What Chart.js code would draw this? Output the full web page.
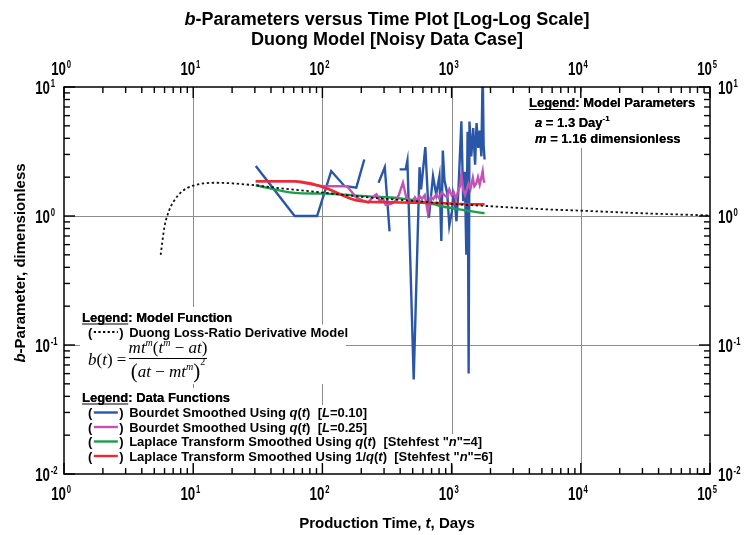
<!DOCTYPE html>
<html>
<head>
<meta charset="utf-8">
<script src="https://cdn.jsdelivr.net/npm/chart.js@4.4.1/dist/chart.umd.min.js"></script>
<style>
  html, body { margin: 0; padding: 0; background: #fff; }
  #wrap { width: 745px; height: 535px; }
</style>
</head>
<body>
<div id="wrap"><canvas id="bchart" width="745" height="535"></canvas></div>
<script>
// axis decades (exponents of 10)
const xExps = [0, 1, 2, 3, 4, 5];
const yExps = [-2, -1, 0, 1];

// Duong loss-ratio derivative model (dotted)
const modelT = [5.6, 6, 6.5, 7, 8, 9, 10, 12, 15, 20, 30, 50, 100, 200, 500, 1000, 2000, 5000, 10000, 30000, 100000];
const modelB = [0.50, 0.83, 1.10, 1.28, 1.52, 1.65, 1.72, 1.79, 1.81, 1.79, 1.73, 1.63, 1.52, 1.41, 1.31, 1.24, 1.19, 1.13, 1.10, 1.05, 1.01];

// Bourdet smoothed, L=0.10 (blue) - null = break in the line
const blueT = [30.5, 61, 91, 117, 148, 183, 211, 240, 272, 304, 331, 360, 396, 441, 455, 509, 565, 580, 626, 667,
  718, 760, 805, 833, 855, 880, 925, 960, 1007, 1030, 1060, 1090, 1130, 1190, 1230, 1265, 1300, 1330, 1355, 1375,
  1420, 1470, 1520, 1560, 1610, 1650, 1700, 1740, 1770, 1800];
const blueB = [2.44, 1.0, 1.0, 2.23, 1.71, 1.66, 2.74, null, 1.81, 2.39, 0.76, null, 2.30, 2.30, 2.69, 0.054, 2.39, 1.61, 3.42, 0.97,
  2.04, 1.47, 2.04, 0.64, 3.22, 1.9, 1.5, 0.84, 1.09, 1.47, 1.27, 0.91, 1.6, 5.43, 1.3, 2.2, 0.5, 4.5, 0.06, 5.4,
  2.9, 4.8, 2.5, 5.25, 3.37, 4.6, 2.9, 14, 3.5, 2.74];

// Bourdet smoothed, L=0.25 (magenta)
const magT = [30.5, 61, 100, 155, 183, 205, 226, 245, 262, 278, 295, 309, 340, 365, 390, 420, 446, 470, 490, 520,
  545, 565, 590, 620, 655, 690, 720, 760, 800, 840, 880, 920, 960, 1000, 1040, 1080, 1120, 1160, 1190, 1230,
  1270, 1310, 1350, 1400, 1460, 1500, 1550, 1600, 1650, 1700, 1740, 1770, 1800];
const magB = [1.86, 1.86, 1.70, 1.70, 1.39, 1.32, 1.27, 1.40, 1.47, 1.31, 1.36, 1.22, 1.24, 1.30, 1.45, 1.81, 1.39, 1.30, 1.27, 1.40,
  1.30, 1.43, 1.36, 1.45, 1.06, 1.40, 1.35, 1.47, 1.38, 1.52, 1.45, 1.40, 1.61, 1.45, 1.52, 1.35, 1.55, 1.70, 2.10, 1.60,
  1.45, 1.60, 1.78, 1.62, 1.98, 1.70, 1.78, 2.00, 1.75, 2.00, 2.23, 1.90, 1.81];

// Laplace transform smoothed using q(t) (green)
const greenT = [30.5, 61, 100, 150, 230, 300, 400, 500, 700, 1000, 1400, 1800];
const greenB = [1.73, 1.51, 1.49, 1.46, 1.42, 1.40, 1.37, 1.33, 1.24, 1.15, 1.09, 1.05];

// Laplace transform smoothed using 1/q(t) (red)
const redT = [30.5, 61, 80, 100, 120, 140, 160, 185, 220, 300, 500, 800, 1200, 1800];
const redB = [1.86, 1.86, 1.79, 1.68, 1.57, 1.46, 1.38, 1.32, 1.29, 1.28, 1.27, 1.26, 1.24, 1.23];

const BLUE = '#2a56a8', MAGENTA = '#c452b4', GREEN = '#1a9e4c', RED = '#ef2a2e';
const SANS = '"Liberation Sans", Arial, Helvetica, sans-serif';
const SERIF = '"Liberation Serif", "Times New Roman", serif';

const pts = (ts, bs) => ts.map((t, i) => ({ x: t, y: bs[i] }));

// text helpers -------------------------------------------------------------
function font(size, italic, family) {
  return (italic ? 'italic ' : '') + 'bold ' + size + 'px ' + (family || SANS);
}

// parts: [text, flags]  flags: 'i' italic, 's' superscript
function rich(ctx, x, y, parts, size, mode) {
  let cx = x;
  ctx.fillStyle = '#000';
  parts.forEach(([s, f = '']) => {
    const sup = f.includes('s');
    ctx.font = font(sup ? Math.round(size * 0.62) : size, f.includes('i'));
    if (mode === 'fg') ctx.fillText(s, cx, sup ? y - size * 0.42 : y);
    cx += ctx.measureText(s).width;
  });
  return cx;
}

function whiteBox(ctx, x0, y0, x1, y1) {
  ctx.fillStyle = '#fff';
  ctx.fillRect(x0, y0, x1 - x0, y1 - y0);
}

function line(ctx, x, y, parts, size, mode) {
  if (mode === 'bg') {
    const end = rich(ctx, x, y, parts, size, 'measure');
    whiteBox(ctx, x - 3, y - size + 1, end + 3, y + 4);
    return end;
  }
  return rich(ctx, x, y, parts, size, 'fg');
}

function legendHead(ctx, x, y, rest, mode) {
  const end = line(ctx, x, y, [['Legend'], [': ' + rest]], 13, mode);
  if (mode === 'fg') {
    ctx.font = font(13);
    const w = ctx.measureText('Legend').width;
    ctx.strokeStyle = '#000'; ctx.lineWidth = 1.2;
    ctx.beginPath(); ctx.moveTo(x, y + 2.5); ctx.lineTo(x + w, y + 2.5); ctx.stroke();
  }
  return end;
}

function legendItem(ctx, x, y, color, dotted, parts, mode) {
  ctx.font = font(13);
  const wp = ctx.measureText('(').width;
  const x1 = x + wp + 0.5, x2 = x1 + 26;
  const tx = x2 + ctx.measureText(')').width + 6;
  if (mode === 'bg') {
    const end = rich(ctx, tx, y, parts, 13, 'measure');
    whiteBox(ctx, x - 8, y - 12, end + 3, y + 4);
    return;
  }
  ctx.fillStyle = '#000';
  ctx.fillText('(', x, y);
  ctx.fillText(')', x2 + 0.5, y);
  ctx.save();
  ctx.strokeStyle = color;
  ctx.lineWidth = dotted ? 1.8 : 2.4;
  if (dotted) ctx.setLineDash([2.2, 2.4]);
  ctx.beginPath(); ctx.moveTo(x1 + 1, y - 4.5); ctx.lineTo(x2 - 1, y - 4.5); ctx.stroke();
  ctx.restore();
  rich(ctx, tx, y, parts, 13, 'fg');
}

// "10" with a small raised exponent, condensed like the original
function powLabel(ctx, exp, x, y, anchor) {
  const sx = 0.7;
  ctx.font = font(19);
  const w10 = ctx.measureText('10').width * sx;
  const e = String(exp);
  let x10;
  if (anchor === 'left') x10 = x;            // "10" starts at x
  else if (anchor === 'right') x10 = x - w10; // "10" ends at x
  else x10 = x + 2 - w10;                     // "10" ends just right of the tick
  ctx.fillStyle = '#000';
  ctx.save(); ctx.translate(x10, y); ctx.scale(sx, 1);
  ctx.font = font(19); ctx.fillText('10', 0, 0);
  ctx.restore();
  ctx.save(); ctx.translate(x10 + w10 + 0.8, y - 7.5); ctx.scale(sx, 1);
  ctx.font = font(11); ctx.fillText(e, 0, 0);
  ctx.restore();
}

function formula(ctx, mode) {
  if (mode === 'bg') { whiteBox(ctx, 80, 340, 346, 384); return; }
  ctx.fillStyle = '#000';
  const it = s => 'italic ' + s + 'px ' + SERIF;
  const up = s => s + 'px ' + SERIF;
  const seq = (x, y, parts) => {
    let cx = x;
    parts.forEach(([s, f, dy = 0]) => { ctx.font = f; ctx.fillText(s, cx, y + dy); cx += ctx.measureText(s).width; });
    return cx;
  };
  const measure = parts => parts.reduce((w, [s, f]) => { ctx.font = f; return w + ctx.measureText(s).width; }, 0);
  seq(88, 365, [['b', it(17)], ['(', up(17)], ['t', it(17)], [')', up(17)], [' =', up(17)]]);
  const num = [['mt', it(17)], ['m', it(10), -7], ['(', up(17)], ['t', it(17)], ['m', it(10), -7], [' \u2212 ', up(17)], ['at', it(17)], [')', up(17)]];
  const den = [['(', up(21), 1], ['at', it(17)], [' \u2212 ', up(17)], ['mt', it(17)], ['m', it(10), -7], [')', up(21), 1], ['2', up(10), -12]];
  const cx = 168;
  seq(cx - measure(num) / 2, 353, num);
  seq(cx - measure(den) / 2, 377, den);
  ctx.strokeStyle = '#000'; ctx.lineWidth = 1;
  ctx.beginPath(); ctx.moveTo(129, 358.5); ctx.lineTo(207, 358.5); ctx.stroke();
}

function annotations(ctx, mode) {
  const m = mode === 'bg' ? 'measure' : mode;
  // top-right: model parameters
  if (mode === 'bg') whiteBox(ctx, 524, 92, 698, 148);
  legendHead(ctx, 529, 107, 'Model Parameters', m);
  line(ctx, 535, 126.5, [['a', 'i'], [' = 1.3 Day'], ['-1', 's']], 13, m);
  line(ctx, 535, 142.5, [['m', 'i'], [' = 1.16 dimensionless']], 13, m);

  // bottom-left: model function
  if (mode === 'bg') whiteBox(ctx, 78, 307, 236, 326);
  legendHead(ctx, 82, 321.5, 'Model Function', m);
  legendItem(ctx, 88, 336.5, '#000', true, [['Duong Loss-Ratio Derivative Model']], mode);
  formula(ctx, mode);

  // data functions
  if (mode === 'bg') whiteBox(ctx, 78, 388, 236, 406);
  legendHead(ctx, 82, 401.5, 'Data Functions', m);
  legendItem(ctx, 88, 417, BLUE, false,
    [['Bourdet Smoothed Using '], ['q', 'i'], ['('], ['t', 'i'], [')  ['], ['L', 'i'], ['=0.10]']], mode);
  legendItem(ctx, 88, 431.5, MAGENTA, false,
    [['Bourdet Smoothed Using '], ['q', 'i'], ['('], ['t', 'i'], [')  ['], ['L', 'i'], ['=0.25]']], mode);
  legendItem(ctx, 88, 446, GREEN, false,
    [['Laplace Transform Smoothed Using '], ['q', 'i'], ['('], ['t', 'i'], [')  [Stehfest "'], ['n', 'i'], ['"=4]']], mode);
  legendItem(ctx, 88, 460.5, RED, false,
    [['Laplace Transform Smoothed Using 1/'], ['q', 'i'], ['('], ['t', 'i'], [')  [Stehfest "'], ['n', 'i'], ['"=6]']], mode);
}

const framePlugin = {
  id: 'logFrame',
  beforeDatasetsDraw(chart) {
    const { ctx, chartArea: a, scales: { x, y } } = chart;
    ctx.save();
    ctx.strokeStyle = '#8c8c8c'; ctx.lineWidth = 1;
    xExps.slice(1, -1).forEach(e => {
      const px = Math.round(x.getPixelForValue(Math.pow(10, e))) + 0.5;
      ctx.beginPath(); ctx.moveTo(px, a.top); ctx.lineTo(px, a.bottom); ctx.stroke();
    });
    yExps.slice(1, -1).forEach(e => {
      const py = Math.round(y.getPixelForValue(Math.pow(10, e))) + 0.5;
      ctx.beginPath(); ctx.moveTo(a.left, py); ctx.lineTo(a.right, py); ctx.stroke();
    });
    annotations(ctx, 'bg');
    ctx.restore();
  },
  afterDatasetsDraw(chart) {
    const { ctx, chartArea: a, scales: { x, y } } = chart;
    ctx.save();
    ctx.strokeStyle = '#000'; ctx.lineWidth = 1.5;
    ctx.strokeRect(a.left, a.top, a.right - a.left, a.bottom - a.top);

    // inward tick marks on all four sides
    ctx.lineWidth = 1.4;
    const tick = (x0, y0, x1, y1) => { ctx.beginPath(); ctx.moveTo(x0, y0); ctx.lineTo(x1, y1); ctx.stroke(); };
    xExps.forEach((e, i) => {
      for (let k = 1; k <= 9; k++) {
        if (i === xExps.length - 1 && k > 1) break;
        const px = x.getPixelForValue(k * Math.pow(10, e));
        const len = k === 1 ? 11 : 6;
        tick(px, a.bottom, px, a.bottom - len);
        tick(px, a.top, px, a.top + len);
      }
    });
    yExps.forEach((e, i) => {
      for (let k = 1; k <= 9; k++) {
        if (i === yExps.length - 1 && k > 1) break;
        const py = y.getPixelForValue(k * Math.pow(10, e));
        const len = k === 1 ? 11 : 6;
        tick(a.left, py, a.left + len, py);
        tick(a.right, py, a.right - len, py);
      }
    });

    // decade labels
    xExps.forEach(e => {
      const px = x.getPixelForValue(Math.pow(10, e));
      powLabel(ctx, e, px, 500, 'center');
      powLabel(ctx, e, px, 75, 'center');
    });
    yExps.forEach(e => {
      const py = y.getPixelForValue(Math.pow(10, e));
      powLabel(ctx, e, 50, py + 7, 'right');
      powLabel(ctx, e, a.right + 8, py + 7, 'left');
    });

    // titles
    ctx.fillStyle = '#000';
    const cx = (a.left + a.right) / 2;
    const centered = (yy, parts, size) => {
      const w = rich(ctx, 0, yy, parts, size, 'measure');
      rich(ctx, cx - w / 2, yy, parts, size, 'fg');
    };
    centered(25, [['b', 'i'], ['-Parameters versus Time Plot [Log-Log Scale]']], 18);
    centered(45, [['Duong Model [Noisy Data Case]']], 18);
    centered(527.5, [['Production Time, '], ['t', 'i'], [', Days']], 15);

    ctx.save();
    ctx.translate(25, 263);
    ctx.rotate(-Math.PI / 2);
    const yt = [['b', 'i'], ['-Parameter, dimensionless']];
    const wy = rich(ctx, 0, 0, yt, 15, 'measure');
    rich(ctx, -wy / 2, 0, yt, 15, 'fg');
    ctx.restore();

    annotations(ctx, 'fg');
    ctx.restore();
  }
};

const lineSet = (label, data, color, width, order, extra) => Object.assign({
  label, data, borderColor: color, borderWidth: width, pointRadius: 0,
  fill: false, tension: 0, spanGaps: false, order
}, extra || {});

new Chart(document.getElementById('bchart').getContext('2d'), {
  type: 'line',
  data: {
    datasets: [
      lineSet('Duong Loss-Ratio Derivative Model', pts(modelT, modelB), '#111', 1.8, 0,
        { borderDash: [2.4, 2.6], cubicInterpolationMode: 'monotone' }),
      lineSet('Laplace 1/q(t)', pts(redT, redB), RED, 2.6, 1, { cubicInterpolationMode: 'monotone' }),
      lineSet('Bourdet L=0.25', pts(magT, magB), MAGENTA, 2.4, 2),
      lineSet('Laplace q(t)', pts(greenT, greenB), GREEN, 2.4, 3, { cubicInterpolationMode: 'monotone' }),
      lineSet('Bourdet L=0.10', pts(blueT, blueB), BLUE, 2.4, 4)
    ]
  },
  options: {
    responsive: false,
    animation: false,
    events: [],
    layout: { padding: { left: 64, right: 35, top: 87, bottom: 61 } },
    plugins: { legend: { display: false }, tooltip: { enabled: false }, title: { display: false } },
    scales: {
      x: { type: 'logarithmic', min: 1, max: 100000, display: false },
      y: { type: 'logarithmic', min: 0.01, max: 10, display: false }
    }
  },
  plugins: [framePlugin]
});
</script>
</body>
</html>
